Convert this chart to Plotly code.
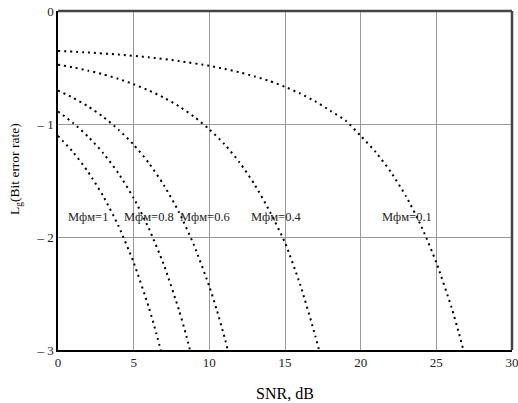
import plotly.graph_objects as go

# SNR (dB) sample positions and Lg(BER) values
snr_m1 = [0, 1, 2, 3, 4, 5, 6, 6.5, 7]
ber_m1 = [-1.105, -1.249, -1.426, -1.641, -1.903, -2.226, -2.622, -2.855, -3.11]

snr_m08 = [0, 1, 2, 3, 4, 5, 6, 7, 8, 8.5, 9]
ber_m08 = [-0.889, -0.991, -1.113, -1.259, -1.438, -1.656, -1.923, -2.248, -2.649, -2.884, -3.15]

snr_m06 = [0, 1, 2, 3, 4, 5, 6, 7, 8, 9, 10, 10.5, 11, 11.5]
ber_m06 = [-0.704, -0.768, -0.845, -0.938, -1.050, -1.183, -1.345, -1.542, -1.782, -2.077, -2.438, -2.649, -2.886, -3.15]

snr_m04 = [0, 1, 2, 3, 4, 5, 6, 7, 8, 9, 10, 11, 12, 13, 14, 15, 16, 17, 17.5]
ber_m04 = [-0.475, -0.499, -0.528, -0.561, -0.601, -0.648, -0.703, -0.767, -0.844, -0.936,
           -1.047, -1.179, -1.341, -1.537, -1.776, -2.050, -2.420, -2.874, -3.13]

snr_m01 = [0, 2, 4, 6, 8, 10, 11, 12, 13, 14, 15, 16, 17, 18, 19, 20, 21, 22, 23, 24, 25, 26, 26.5, 27]
ber_m01 = [-0.353, -0.367, -0.386, -0.410, -0.443, -0.485, -0.512, -0.543, -0.579, -0.621, -0.671,
           -0.730, -0.800, -0.883, -0.969, -1.105, -1.249, -1.426, -1.641, -1.903, -2.226, -2.622, -2.855, -3.11]

labels = ["Mфм=1", "Mфм=0.8", "Mфм=0.6", "Mфм=0.4", "Mфм=0.1"]
label_x = [0.55, 4.2, 7.95, 12.6, 21.3]
label_y = [-1.82, -1.82, -1.82, -1.82, -1.82]

x_ticks = [0, 5, 10, 15, 20, 25, 30]
y_ticks = [-3, -2, -1, 0]
y_ticktext = ["\u2013 3", "\u2013 2", "\u2013 1", "0"]

SERIF = "Liberation Serif, Times New Roman, serif"

fig = go.Figure()
for xs, ys in [(snr_m1, ber_m1), (snr_m08, ber_m08), (snr_m06, ber_m06),
               (snr_m04, ber_m04), (snr_m01, ber_m01)]:
    fig.add_trace(go.Scatter(
        x=xs, y=ys, mode="lines",
        line=dict(color="black", width=2, dash="2px,4px", shape="spline", smoothing=0.6),
        showlegend=False, hoverinfo="skip"))

for t, x, y in zip(labels, label_x, label_y):
    fig.add_annotation(x=x, y=y, text=t, showarrow=False, xanchor="left", yanchor="middle",
                       font=dict(family=SERIF, size=12.5, color="#222"))

# axis titles
fig.add_annotation(xref="paper", yref="paper", x=0.5, y=-0.127, text="SNR, dB",
                   showarrow=False, xanchor="center", yanchor="middle",
                   font=dict(family=SERIF, size=16, color="black"))
fig.add_annotation(xref="paper", yref="paper", x=-0.094, y=0.535, text="L<sub>g</sub>(Bit error rate)",
                   showarrow=False, xanchor="center", yanchor="middle", textangle=-90,
                   font=dict(family=SERIF, size=13.5, color="black"))

# top and right frame lines
fig.add_shape(type="line", xref="paper", yref="paper", x0=0, x1=1, y0=1, y1=1,
              line=dict(color="#444", width=2.5))
fig.add_shape(type="line", xref="paper", yref="paper", x0=1, x1=1, y0=0, y1=1,
              line=dict(color="#444", width=2.5))

fig.update_layout(
    width=518, height=403,
    margin=dict(l=58, r=6, t=11, b=53, autoexpand=False),
    plot_bgcolor="white", paper_bgcolor="white",
    font=dict(family=SERIF, color="black"),
    xaxis=dict(range=[0, 30], tickvals=x_ticks, showgrid=True, gridcolor="#9a9a9a", gridwidth=1,
               zeroline=False, showline=True, linecolor="black", linewidth=1.5,
               automargin=False, ticklabeloverflow="allow",
               ticks="", tickfont=dict(family=SERIF, size=13, color="#222")),
    yaxis=dict(range=[-3, 0], tickvals=y_ticks, ticktext=y_ticktext, showgrid=True,
               gridcolor="#9a9a9a", gridwidth=1, zeroline=False, showline=True,
               linecolor="black", linewidth=1.5, ticks="", automargin=False,
               ticklabeloverflow="allow",
               tickfont=dict(family=SERIF, size=13, color="#222")),
)

fig.write_html("out.html", config={"displayModeBar": False},
               post_script="document.body.style.margin='0';document.body.style.overflow='hidden';")
